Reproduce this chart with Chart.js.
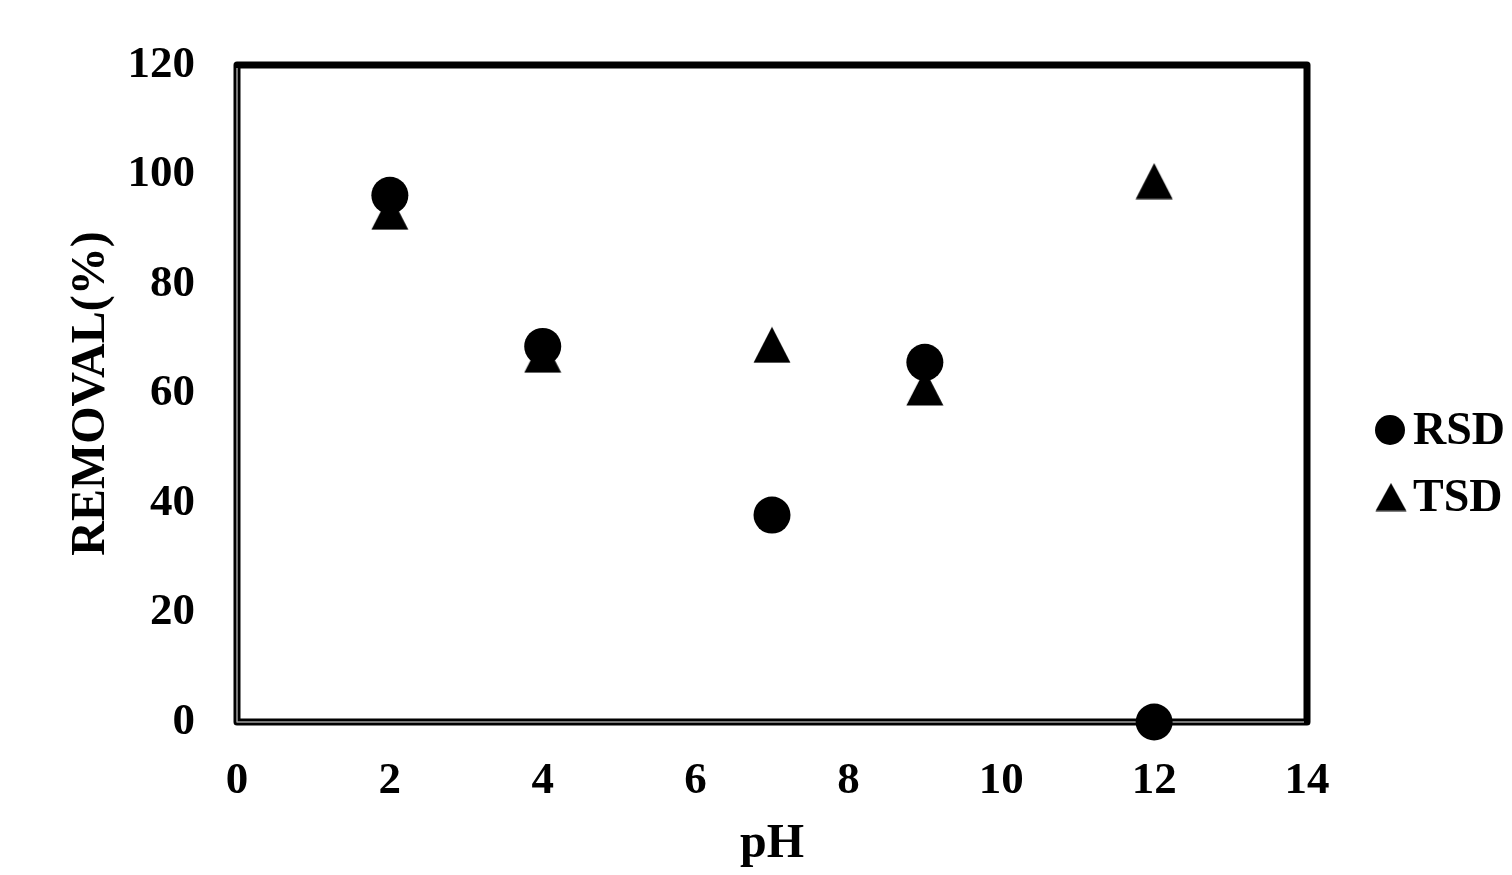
<!DOCTYPE html>
<html>
<head>
<meta charset="utf-8">
<script src="https://cdn.jsdelivr.net/npm/chart.js@4.4.1/dist/chart.umd.min.js"></script>
<style>
  html, body { margin: 0; padding: 0; background: #ffffff; }
  #wrap { width: 1512px; height: 875px; position: relative; }
</style>
</head>
<body>
<div id="wrap"><canvas id="c" width="1512" height="875"></canvas></div>
<script>
// ---- data ----
const pH = [2, 4, 7, 9, 12];
const rsd = [96.2, 68.6, 37.8, 65.7, 0];
const tsd = [93.2, 67.1, 68.9, 61.1, 98.8];
const seriesNames = ['RSD', 'TSD'];
const xTicks = [0, 2, 4, 6, 8, 10, 12, 14];
const yTicks = [0, 20, 40, 60, 80, 100, 120];

const FONT = "'Liberation Serif', 'Times New Roman', serif";

function makeTriangle(w, h) {
  const cv = document.createElement('canvas');
  cv.width = w; cv.height = h;
  const g = cv.getContext('2d');
  g.fillStyle = '#000';
  g.beginPath();
  g.moveTo(w / 2, 0.5);
  g.lineTo(w - 0.5, h - 0.5);
  g.lineTo(0.5, h - 0.5);
  g.closePath();
  g.fill();
  return cv;
}
const tri = makeTriangle(38, 37);
const triSmall = makeTriangle(32, 29);

const borderPlugin = {
  id: 'frame',
  beforeDatasetsDraw(chart) {
    const { ctx, chartArea: a } = chart;
    ctx.save();
    ctx.strokeStyle = '#000';
    ctx.lineWidth = 7;
    ctx.lineJoin = 'round';
    ctx.strokeRect(a.left, a.top, a.right - a.left, a.bottom - a.top);
    ctx.strokeStyle = '#a0a0a0';
    ctx.lineWidth = 1.5;
    ctx.beginPath();
    ctx.moveTo(a.left, a.top + 3);
    ctx.lineTo(a.left, a.bottom);
    ctx.lineTo(a.right - 3, a.bottom);
    ctx.stroke();
    ctx.restore();
  }
};

const legendPlugin = {
  id: 'customLegend',
  afterDraw(chart) {
    const ctx = chart.ctx;
    ctx.save();
    ctx.fillStyle = '#000';
    ctx.font = 'bold 46px ' + FONT;
    ctx.textBaseline = 'middle';
    ctx.textAlign = 'left';
    ctx.beginPath();
    ctx.arc(1390, 430, 15, 0, Math.PI * 2);
    ctx.fill();
    ctx.fillText(seriesNames[0], 1413, 432);
    ctx.drawImage(triSmall, 1391 - 16, 497 - 14.5);
    ctx.fillText(seriesNames[1], 1413, 499);
    ctx.restore();
  }
};

const ctx = document.getElementById('c').getContext('2d');
new Chart(ctx, {
  type: 'scatter',
  data: {
    datasets: [
      {
        label: seriesNames[1],
        data: pH.map((x, i) => ({ x, y: tsd[i] })),
        pointStyle: tri,
        pointRadius: 19,
        backgroundColor: '#000',
        borderColor: '#000',
        clip: false
      },
      {
        label: seriesNames[0],
        data: pH.map((x, i) => ({ x, y: rsd[i] })),
        pointStyle: 'circle',
        pointRadius: 18.5,
        pointHoverRadius: 18.5,
        borderWidth: 0,
        backgroundColor: '#000',
        borderColor: '#000',
        clip: false
      }
    ]
  },
  plugins: [borderPlugin, legendPlugin],
  options: {
    responsive: false,
    animation: false,
    devicePixelRatio: 1,
    layout: { padding: { top: 65, right: 205, bottom: 0, left: 0 } },
    plugins: {
      legend: { display: false },
      tooltip: { enabled: false }
    },
    scales: {
      x: {
        type: 'linear',
        min: 0, max: 14,
        afterBuildTicks(s) { s.ticks = xTicks.map(v => ({ value: v })); },
        afterFit(s) { s.height = 875 - 722; s.paddingLeft = 0; s.paddingRight = 0; },
        grid: { display: false, drawTicks: false },
        border: { display: false },
        ticks: {
          padding: 32,
          color: '#000',
          font: { family: FONT, size: 45, weight: 'bold' },
          maxRotation: 0
        },
        title: {
          display: true,
          text: 'pH',
          color: '#000',
          font: { family: FONT, size: 48, weight: 'bold' },
          padding: { top: 0, bottom: 2 }
        }
      },
      y: {
        type: 'linear',
        min: 0, max: 120,
        afterBuildTicks(s) { s.ticks = yTicks.map(v => ({ value: v })); },
        afterFit(s) { s.width = 237; s.paddingTop = 0; s.paddingBottom = 0; },
        grid: { display: false, drawTicks: false },
        border: { display: false },
        ticks: {
          padding: 42,
          color: '#000',
          font: { family: FONT, size: 45, weight: 'bold' }
        },
        title: {
          display: true,
          text: 'REMOVAL(%)',
          color: '#000',
          font: { family: FONT, size: 48, weight: 'bold' },
          padding: { top: 63, bottom: 0 }
        }
      }
    }
  }
});
</script>
</body>
</html>
